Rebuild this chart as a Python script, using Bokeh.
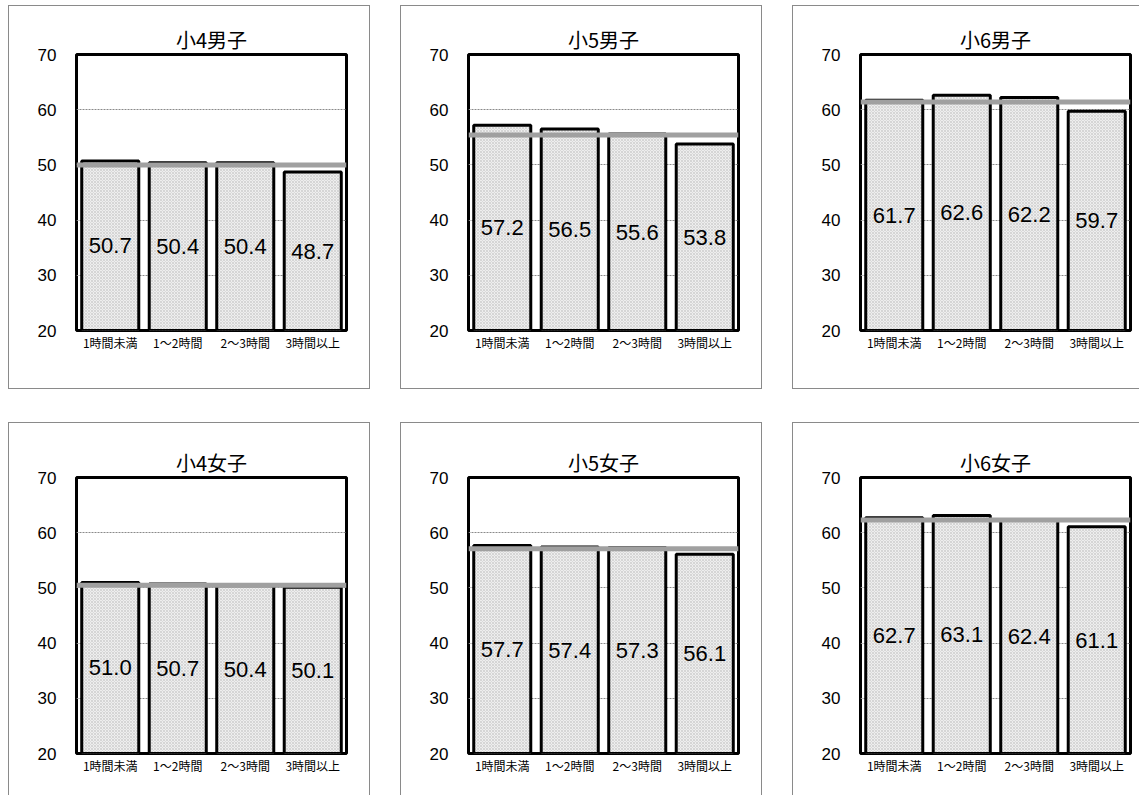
from bokeh.plotting import figure
from bokeh.layouts import row, column
from bokeh.models import Range1d, FactorRange, FixedTicker, Span, ColumnDataSource
from bokeh.core.properties import value
from bokeh.embed import file_html
from bokeh.resources import INLINE

categories = ["1時間未満", "1～2時間", "2～3時間", "3時間以上"]
titles = ["小4男子", "小5男子", "小6男子", "小4女子", "小5女子", "小6女子"]
v_boys4 = [50.7, 50.4, 50.4, 48.7]
v_boys5 = [57.2, 56.5, 55.6, 53.8]
v_boys6 = [61.7, 62.6, 62.2, 59.7]
v_girls4 = [51.0, 50.7, 50.4, 50.1]
v_girls5 = [57.7, 57.4, 57.3, 56.1]
v_girls6 = [62.7, 63.1, 62.4, 61.1]
averages = [50.0, 55.4, 61.4, 50.5, 57.1, 62.3]
y_ticks = [20, 30, 40, 50, 60, 70]
Y_MIN, Y_MAX = 20, 70

NUM_FONT = "Liberation Sans"
JP_FONT = "Noto Sans CJK JP"


def make_panel(title, vals, avg, width, height, mb_top, mb_bottom, mb_left, mb_right, border_css):
    p = figure(x_range=FactorRange(*categories, range_padding=0),
               y_range=Range1d(Y_MIN, Y_MAX),
               width=width, height=height,
               output_backend="svg", toolbar_location=None,
               min_border_top=mb_top, min_border_bottom=mb_bottom,
               min_border_left=mb_left, min_border_right=mb_right)
    p.styles = border_css
    src = ColumnDataSource(dict(
        cat=categories,
        val=vals,
        mid=[(Y_MIN + v) / 2 for v in vals],
        lab=["%.1f" % v for v in vals],
    ))
    p.vbar(x="cat", top="val", bottom=Y_MIN, width=0.845, source=src,
           fill_color="#eeeeee", hatch_pattern="diagonal_cross", hatch_color="#c4c4c4",
           hatch_scale=3, hatch_weight=0.6,
           line_color="black", line_width=3)
    p.text(x="cat", y="mid", text="lab", source=src,
           text_font=value(NUM_FONT), text_font_size="22px",
           text_align="center", text_baseline="middle", text_color="black")
    p.add_layout(Span(location=avg, dimension="width", line_color="#a0a0a0", line_width=5))

    p.title.text = title
    p.title.align = "center"
    p.title.text_font = JP_FONT
    p.title.text_font_size = "20px"
    p.title.text_font_style = "normal"
    p.title.text_color = "black"
    p.title.standoff = 1

    p.outline_line_color = "black"
    p.outline_line_width = 3
    p.outline_line_alpha = 1

    p.xgrid.grid_line_color = None
    p.ygrid.grid_line_color = "#8a8a8a"
    p.ygrid.grid_line_dash = "2 1"
    p.ygrid.grid_line_width = 1
    p.ygrid.ticker = FixedTicker(ticks=y_ticks)

    p.yaxis.ticker = FixedTicker(ticks=y_ticks)
    p.yaxis.axis_line_color = None
    p.yaxis.major_tick_line_color = None
    p.yaxis.minor_tick_line_color = None
    p.yaxis.major_tick_out = 0
    p.yaxis.major_tick_in = 0
    p.yaxis.major_label_standoff = 20
    p.yaxis.major_label_text_font = NUM_FONT
    p.yaxis.major_label_text_font_size = "17px"
    p.yaxis.major_label_text_color = "black"

    p.xaxis.axis_line_color = None
    p.xaxis.major_tick_line_color = None
    p.xaxis.minor_tick_line_color = None
    p.xaxis.major_tick_out = 0
    p.xaxis.major_tick_in = 0
    p.xaxis.major_label_standoff = 3
    p.xaxis.major_label_text_font = JP_FONT
    p.xaxis.major_label_text_font_size = "12px"
    p.xaxis.major_label_text_color = "black"
    return p


BORDER = "1px solid #8a8a8a"
all_vals = [v_boys4, v_boys5, v_boys6, v_girls4, v_girls5, v_girls6]

panels = []
for i in range(6):
    r, c = divmod(i, 3)
    width = 362 if c < 2 else 347
    css = {"border-top": BORDER, "border-left": BORDER}
    if c < 2:
        css["border-right"] = BORDER
    if r == 0:
        css["border-bottom"] = BORDER
        height, mb_top, mb_bottom = 384, 48, 60
    else:
        height, mb_top, mb_bottom = 373, 54, 43
    mb_left = 67
    mb_right = 25 if c < 2 else 10
    panels.append(make_panel(titles[i], all_vals[i], averages[i], width, height,
                             mb_top, mb_bottom, mb_left, mb_right, css))

layout = column(row(panels[0], panels[1], panels[2], spacing=30),
                row(panels[3], panels[4], panels[5], spacing=30),
                spacing=33)
layout.styles = {"margin-left": "8px", "margin-top": "5px"}

open("out.html", "w").write(file_html(layout, INLINE))
